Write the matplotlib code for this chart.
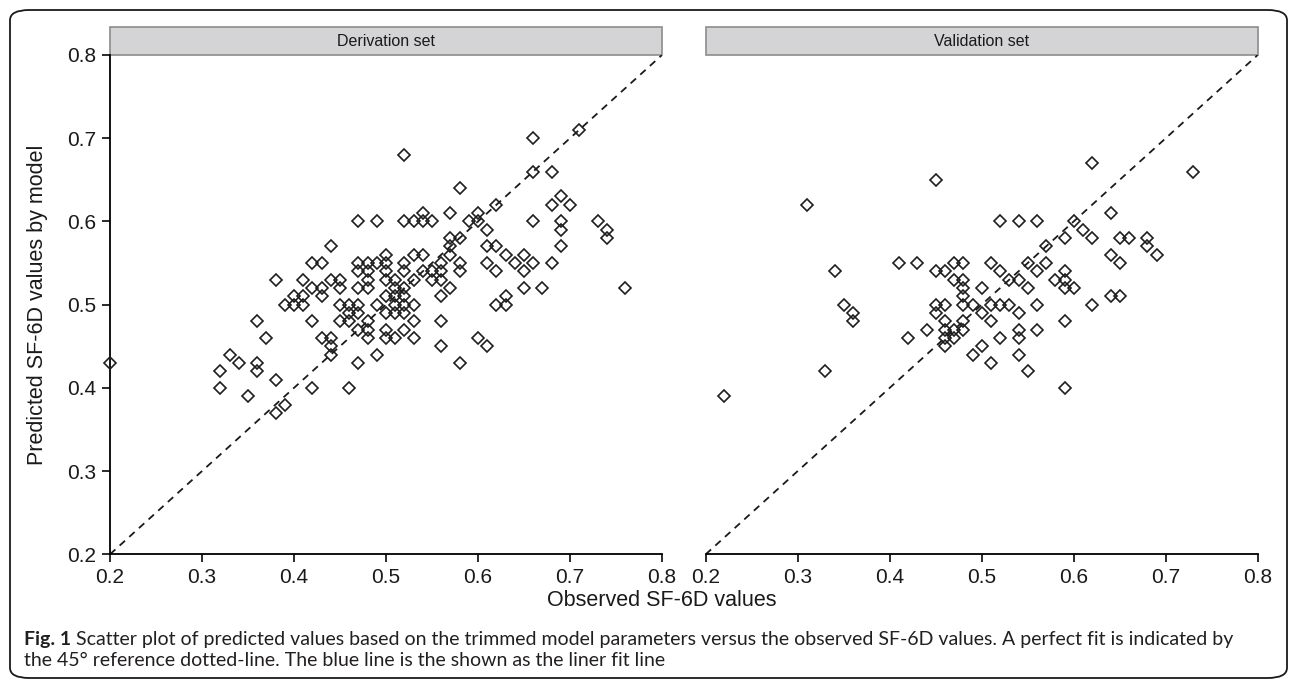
import numpy as np
import matplotlib
matplotlib.use("Agg")
import matplotlib.pyplot as plt
from matplotlib.patches import Rectangle, FancyBboxPatch

## Data (grouped by predicted value)
deriv_pred_levels = [0.71, 0.70, 0.68, 0.66, 0.64, 0.63, 0.62, 0.61, 0.60, 0.59, 0.58,
                     0.57, 0.56, 0.55, 0.54, 0.53, 0.52, 0.51, 0.50, 0.49, 0.48, 0.47,
                     0.46, 0.45, 0.44, 0.43, 0.42, 0.41, 0.40, 0.39, 0.38, 0.37]
deriv_obs_by_level = [
    [0.71], [0.66], [0.52], [0.66, 0.68], [0.58], [0.69], [0.62, 0.68, 0.70],
    [0.54, 0.57, 0.60],
    [0.47, 0.49, 0.52, 0.53, 0.54, 0.55, 0.59, 0.60, 0.66, 0.69, 0.73],
    [0.61, 0.69, 0.74], [0.57, 0.58, 0.74], [0.44, 0.57, 0.61, 0.62, 0.69],
    [0.50, 0.53, 0.54, 0.57, 0.63, 0.65],
    [0.42, 0.43, 0.47, 0.48, 0.49, 0.50, 0.52, 0.56, 0.58, 0.61, 0.64, 0.66, 0.68],
    [0.47, 0.48, 0.50, 0.52, 0.54, 0.55, 0.56, 0.58, 0.62, 0.65],
    [0.38, 0.41, 0.44, 0.45, 0.48, 0.50, 0.51, 0.53, 0.55, 0.56],
    [0.42, 0.43, 0.45, 0.47, 0.48, 0.51, 0.52, 0.57, 0.65, 0.67, 0.76],
    [0.40, 0.41, 0.43, 0.50, 0.51, 0.52, 0.56, 0.63],
    [0.39, 0.40, 0.41, 0.45, 0.46, 0.47, 0.49, 0.51, 0.52, 0.53, 0.62, 0.63],
    [0.46, 0.47, 0.50, 0.51, 0.52],
    [0.36, 0.42, 0.45, 0.46, 0.48, 0.53, 0.56],
    [0.47, 0.48, 0.50, 0.52],
    [0.37, 0.43, 0.44, 0.48, 0.50, 0.51, 0.53, 0.60],
    [0.44, 0.56, 0.61], [0.33, 0.44, 0.49], [0.20, 0.34, 0.36, 0.47, 0.58],
    [0.32, 0.36], [0.38], [0.32, 0.42, 0.46], [0.35], [0.39], [0.38],
]

valid_pred_levels = [0.67, 0.66, 0.65, 0.62, 0.61, 0.60, 0.59, 0.58, 0.57, 0.56, 0.55,
                     0.54, 0.53, 0.52, 0.51, 0.50, 0.49, 0.48, 0.47, 0.46, 0.45, 0.44,
                     0.43, 0.42, 0.40, 0.39]
valid_obs_by_level = [
    [0.62], [0.73], [0.45], [0.31], [0.64], [0.52, 0.54, 0.56, 0.60], [0.61],
    [0.59, 0.62, 0.65, 0.66, 0.68], [0.57, 0.68], [0.64, 0.69],
    [0.41, 0.43, 0.47, 0.48, 0.51, 0.55, 0.57, 0.65],
    [0.34, 0.45, 0.46, 0.52, 0.56, 0.59],
    [0.47, 0.48, 0.53, 0.54, 0.58, 0.59],
    [0.48, 0.50, 0.55, 0.59, 0.60],
    [0.48, 0.64, 0.65],
    [0.35, 0.45, 0.46, 0.48, 0.49, 0.51, 0.52, 0.53, 0.56, 0.62],
    [0.36, 0.45, 0.50, 0.54],
    [0.36, 0.46, 0.48, 0.51, 0.59],
    [0.44, 0.46, 0.47, 0.48, 0.54, 0.56],
    [0.42, 0.46, 0.47, 0.52, 0.54],
    [0.46, 0.50], [0.49, 0.54], [0.51], [0.33, 0.55], [0.59], [0.22],
]

panel_titles = ["Derivation set", "Validation set"]
ticks = [0.2, 0.3, 0.4, 0.5, 0.6, 0.7, 0.8]
tick_labels = ["0.2", "0.3", "0.4", "0.5", "0.6", "0.7", "0.8"]


def flatten(levels, obs_lists):
    xs, ys = [], []
    for lev, obs in zip(levels, obs_lists):
        xs += obs
        ys += [lev] * len(obs)
    return np.array(xs), np.array(ys)


deriv_obs, deriv_pred = flatten(deriv_pred_levels, deriv_obs_by_level)
valid_obs, valid_pred = flatten(valid_pred_levels, valid_obs_by_level)

plt.rcParams['font.family'] = ['Liberation Sans', 'DejaVu Sans']

W, H = 1290, 681
fig = plt.figure(figsize=(W / 100, H / 100), dpi=100)

# panel positions in pixels (left, top, right, bottom)
ax_top, ax_bot = 55, 554.3
panels_px = [(110, 662), (705.7, 1257.7)]
axes = []
for (l, r) in panels_px:
    ax = fig.add_axes([l / W, 1 - ax_bot / H, (r - l) / W, (ax_bot - ax_top) / H])
    axes.append(ax)

data = [(deriv_obs, deriv_pred), (valid_obs, valid_pred)]
for i, ax in enumerate(axes):
    x, y = data[i]
    ax.plot([0.2, 0.8], [0.2, 0.8], ls=(0, (4, 3.2)), color='#1a1a1a', lw=1.3, zorder=2)
    ax.plot(x, y, ls='none', marker='D', ms=6.2, mfc='none', mec='#1e1e1e', mew=1.2,
            zorder=3, clip_on=False)
    ax.set_xlim(0.2, 0.8)
    ax.set_ylim(0.2, 0.8)
    ax.set_xticks(ticks)
    ax.set_xticklabels(tick_labels)
    for s in ['top', 'right']:
        ax.spines[s].set_visible(False)
    ax.spines['bottom'].set_linewidth(1.3)
    ax.spines['left'].set_linewidth(1.3)
    ax.tick_params(direction='out', length=6, width=1.3, labelsize=15, pad=4,
                   colors='#1a1a1a')
    if i == 0:
        ax.set_yticks(ticks)
        ax.set_yticklabels(tick_labels)
    else:
        ax.spines['left'].set_visible(False)
        ax.set_yticks([])

    # strip header above the panel
    strip_h = 28 / (ax_bot - ax_top)
    ax.add_patch(Rectangle((0, 1), 1, strip_h, transform=ax.transAxes, clip_on=False,
                           facecolor='#d4d4d6', edgecolor='#8c8c8c', lw=1.2, zorder=1))
    ax.text(0.5, 1 + strip_h / 2, panel_titles[i], transform=ax.transAxes,
            ha='center', va='center', fontsize=11.5, color='#1a1a1a')

fig.text(38 / W, 1 - (ax_top + ax_bot) / 2 / H, "Predicted SF-6D values by model",
         rotation=90, ha='center', va='center', fontsize=15.5, color='#1a1a1a')
fig.text(662 / W, 1 - 600 / H, "Observed SF-6D values", ha='center', va='center',
         fontsize=15.5, color='#1a1a1a')

# caption
cap_font = ['Lato', 'DejaVu Sans']
t1 = fig.text(24 / W, 1 - 639 / H, "Fig. 1", ha='left', va='center', fontsize=14,
              fontweight='bold', family=cap_font, color='#231f20')
fig.canvas.draw()
bb = t1.get_window_extent(fig.canvas.get_renderer())
fig.text(bb.x1 / W + 5 / W, 1 - 639 / H,
         "Scatter plot of predicted values based on the trimmed model parameters versus "
         "the observed SF-6D values. A perfect fit is indicated by",
         ha='left', va='center', fontsize=14, family=cap_font, color='#231f20')
fig.text(24 / W, 1 - 660 / H,
         "the 45\u00b0 reference dotted-line. The blue line is the shown as the liner fit line",
         ha='left', va='center', fontsize=14, family=cap_font, color='#231f20')

# rounded frame around the figure
fig.patches.append(FancyBboxPatch((10 / W, 3 / H), 1277 / W, 668 / H,
                                  boxstyle="round,pad=0,rounding_size=0.015",
                                  transform=fig.transFigure, fill=False,
                                  edgecolor='#1a1a1a', lw=1.3))

fig.savefig("out.png", dpi=100)
